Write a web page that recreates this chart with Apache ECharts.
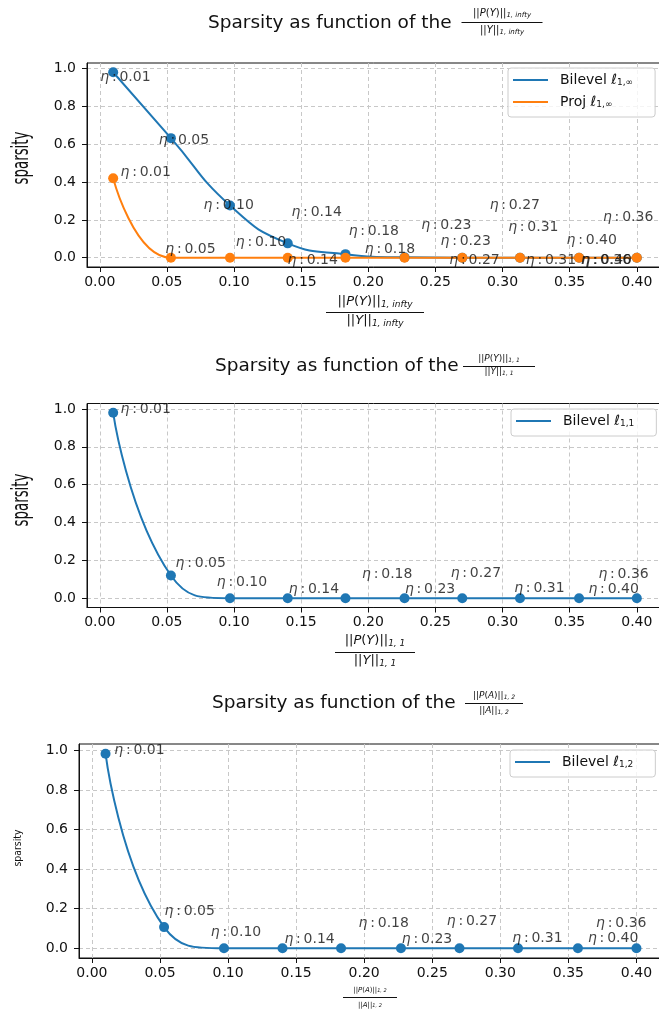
<!DOCTYPE html>
<html>
<head>
<meta charset="utf-8">
<script src="https://cdn.jsdelivr.net/npm/echarts@6/dist/echarts.min.js"></script>
<style>
  html, body { margin: 0; padding: 0; background: #fff; }
  #main { width: 659px; height: 1010px; }
</style>
</head>
<body>
<div id="main"></div>
<script>
// ---- data ----
var eta = [0.01, 0.053, 0.097, 0.14, 0.183, 0.227, 0.27, 0.313, 0.357, 0.40];
var etaText = ["0.01", "0.05", "0.10", "0.14", "0.18", "0.23", "0.27", "0.31", "0.36", "0.40"];
var xTicks = [0, 0.05, 0.1, 0.15, 0.2, 0.25, 0.3, 0.35, 0.4];
var yTicks = [0, 0.2, 0.4, 0.6, 0.8, 1.0];

var bilevelInf = [0.98, 0.632, 0.276, 0.076, 0.019, 0.002, 0, 0, 0, 0];
var projInf = [0.42, 0, 0, 0, 0, 0, 0, 0, 0, 0];
var bilevel11 = [0.98, 0.12, 0, 0, 0, 0, 0, 0, 0, 0];
var bilevel12 = [0.983, 0.107, 0, 0, 0, 0, 0, 0, 0, 0];

// where the eta annotations sit (data units: left edge, middle)
var bilevelInfLabX = [0.0, 0.0436, 0.0769, 0.1424, 0.185, 0.239, 0.290, 0.3038, 0.3744, 0.3473];
var bilevelInfLabY = [0.951, 0.618, 0.276, 0.240, 0.141, 0.173, 0.276, 0.161, 0.212, 0.090];
var projInfLabX = [0.0151, 0.0484, 0.101, 0.1395, 0.197, 0.2534, 0.26, 0.3169, 0.3579, 0.3585];
var projInfLabY = [0.451, 0.044, 0.081, -0.012, 0.046, 0.085, -0.012, -0.016, -0.016, -0.016];
var bilevel11LabX = [0.0151, 0.0561, 0.0868, 0.1404, 0.195, 0.2269, 0.261, 0.3083, 0.371, 0.3636];
var bilevel11LabY = [1.0, 0.186, 0.085, 0.046, 0.127, 0.046, 0.134, 0.053, 0.127, 0.046];
var bilevel12LabX = [0.016, 0.053, 0.087, 0.141, 0.1955, 0.2273, 0.2603, 0.3084, 0.370, 0.364];
var bilevel12LabY = [1.0, 0.186, 0.082, 0.045, 0.128, 0.045, 0.138, 0.052, 0.128, 0.049];

var C0 = "#1f77b4", C1 = "#ff7f0e";
var FONT = "DejaVu Sans";
var INK = "#111";

function pairs(xs, ys) {
  return xs.map(function (x, i) { return [x, ys[i]]; });
}

// right edge of every panel sits just past the page, as in the picture
var grids = [
  { left: 87, top: 63, width: 576, height: 204 },
  { left: 87, top: 403.5, width: 576, height: 204 },
  { left: 79, top: 744, width: 584, height: 214 }
];
var yMax = [1.029, 1.029, 1.032];

function xAxisFor(i) {
  return {
    type: "value", gridIndex: i, min: -0.0095, max: 0.4195,
    axisLine: { onZero: false, lineStyle: { color: INK, width: 1 } },
    axisTick: { show: true, customValues: xTicks, length: 5, lineStyle: { color: INK } },
    axisLabel: { customValues: xTicks, formatter: function (v) { return v.toFixed(2); },
      color: INK, fontSize: 14, fontFamily: FONT, margin: 8 },
    splitLine: { show: true, lineStyle: { color: "#c8c8c8", type: [4, 3], width: 1 } }
  };
}
function yAxisFor(i) {
  return {
    type: "value", gridIndex: i, min: -0.049, max: yMax[i],
    axisLine: { onZero: false, lineStyle: { color: INK, width: 1 } },
    axisTick: { show: true, customValues: yTicks, length: 5, lineStyle: { color: INK } },
    axisLabel: { customValues: yTicks, formatter: function (v) { return v.toFixed(1); },
      color: INK, fontSize: 14, fontFamily: FONT, margin: 11 },
    splitLine: { show: true, lineStyle: { color: "#c8c8c8", type: [4, 3], width: 1 } }
  };
}

function curve(name, i, ys, color) {
  return {
    type: "line", name: name, xAxisIndex: i, yAxisIndex: i,
    data: pairs(eta, ys), smooth: 0.5, showSymbol: false,
    lineStyle: { color: color, width: 2 }, itemStyle: { color: color }, z: 2
  };
}
function dots(name, i, ys, color) {
  return {
    type: "scatter", name: name, xAxisIndex: i, yAxisIndex: i,
    data: pairs(eta, ys), symbolSize: 10,
    itemStyle: { color: color, opacity: 1 }, z: 3
  };
}
function notes(name, i, xs, ys) {
  return {
    type: "scatter", name: name, xAxisIndex: i, yAxisIndex: i,
    data: pairs(xs, ys), symbolSize: 1, itemStyle: { color: "transparent" }, z: 5,
    label: {
      show: true, position: "right", distance: 0, color: INK, fontSize: 14, fontFamily: FONT,
      formatter: function (p) { return "{e|\u03b7}\u2009:\u2009" + etaText[p.dataIndex]; },
      rich: { e: { fontStyle: "italic", fontSize: 14, fontFamily: FONT, color: INK } }
    }
  };
}

function legendFor(names, left, top) {
  return {
    data: names, left: left, top: top, orient: "vertical",
    icon: "rect", itemWidth: 35, itemHeight: 2, itemGap: 8,
    padding: [5, 22, 8, 5],
    borderColor: "#cccccc", borderWidth: 1, borderRadius: 3,
    backgroundColor: "rgba(255,255,255,0.8)",
    selectedMode: false,
    formatter: function (n) { return n.replace(/\u2113(.*)$/, "{l|\u2113}{s|$1}"); },
    textStyle: {
      color: INK, fontSize: 14, fontFamily: FONT, padding: [0, 0, 0, 7],
      rich: {
        l: { fontStyle: "italic", fontSize: 14, fontFamily: FONT, color: INK },
        s: { fontSize: 9, fontFamily: FONT, color: INK, verticalAlign: "bottom", padding: [5, 0, 0, 0] }
      }
    }
  };
}

// a stacked fraction (math-like axis label / title part)
function frac(cx, yNum, yLine, yDen, w, num, den, fs, sfs) {
  var rich = {
    i: { fontStyle: "italic", fontSize: fs, fontFamily: FONT, fill: INK },
    s: { fontStyle: "italic", fontSize: sfs, fontFamily: FONT, fill: INK, padding: [Math.round(fs * 0.35), 0, 0, 0], verticalAlign: "bottom" }
  };
  return [
    { type: "text", x: cx, y: yNum, silent: true,
      style: { text: num, rich: rich, font: fs + "px '" + FONT + "'", fill: INK, align: "center", verticalAlign: "middle" } },
    { type: "rect", silent: true, shape: { x: cx - w / 2, y: yLine, width: w, height: 1 }, style: { fill: INK } },
    { type: "text", x: cx, y: yDen, silent: true,
      style: { text: den, rich: rich, font: fs + "px '" + FONT + "'", fill: INK, align: "center", verticalAlign: "middle" } }
  ];
}
function titleText(x, y) {
  return { type: "text", x: x, y: y, silent: true,
    style: { text: "Sparsity as function of the", font: "18.5px '" + FONT + "'", fill: INK, align: "left", verticalAlign: "middle" } };
}
function yName(x, y, fs, sx) {
  return { type: "text", x: x, y: y, rotation: Math.PI / 2, scaleX: sx, silent: true,
    style: { text: "sparsity", font: fs + "px '" + FONT + "'", fill: INK, align: "center", verticalAlign: "middle" } };
}

var graphics = [
  titleText(208, 23),
  titleText(215, 366),
  titleText(212, 703),
  yName(22, 158, 23, 0.58),
  yName(22, 500, 23, 0.58),
  yName(18, 848, 11, 0.85)
];
graphics = graphics
  .concat(frac(502, 13, 22, 30, 81, "||{i|P}({i|Y})||{s|1, infty}", "||{i|Y}||{s|1, infty}", 10, 7))
  .concat(frac(375, 302, 312, 321, 98, "||{i|P}({i|Y})||{s|1, infty}", "||{i|Y}||{s|1, infty}", 13, 9))
  .concat(frac(499, 359, 366, 372, 72, "||{i|P}({i|Y})||{s|1, 1}", "||{i|Y}||{s|1, 1}", 9, 6))
  .concat(frac(375, 641, 652, 661, 80, "||{i|P}({i|Y})||{s|1, 1}", "||{i|Y}||{s|1, 1}", 13, 9))
  .concat(frac(494, 696, 703, 711, 58, "||{i|P}({i|A})||{s|1, 2}", "||{i|A}||{s|1, 2}", 9, 6))
  .concat(frac(370, 990, 997, 1005, 54, "||{i|P}({i|A})||{s|1, 2}", "||{i|A}||{s|1, 2}", 7, 5));

var chart = echarts.init(document.getElementById("main"), null, { renderer: "canvas" });
chart.setOption({
  animation: false,
  backgroundColor: "#fff",
  grid: grids.map(function (g) {
    return { left: g.left, top: g.top, width: g.width, height: g.height, show: true,
      outerBoundsMode: "none", containLabel: false,
      borderColor: INK, borderWidth: 1, backgroundColor: "transparent" };
  }),
  xAxis: [xAxisFor(0), xAxisFor(1), xAxisFor(2)],
  yAxis: [yAxisFor(0), yAxisFor(1), yAxisFor(2)],
  legend: [
    legendFor(["Bilevel \u21131,\u221e", "Proj \u21131,\u221e"], 508, 68),
    legendFor(["Bilevel \u21131,1"], 511, 409),
    legendFor(["Bilevel \u21131,2"], 510, 750)
  ],
  graphic: graphics,
  series: [
    curve("Bilevel \u21131,\u221e", 0, bilevelInf, C0),
    dots("bilevel inf points", 0, bilevelInf, C0),
    curve("Proj \u21131,\u221e", 0, projInf, C1),
    dots("proj inf points", 0, projInf, C1),
    notes("bilevel inf notes", 0, bilevelInfLabX, bilevelInfLabY),
    notes("proj inf notes", 0, projInfLabX, projInfLabY),

    curve("Bilevel \u21131,1", 1, bilevel11, C0),
    dots("bilevel 11 points", 1, bilevel11, C0),
    notes("bilevel 11 notes", 1, bilevel11LabX, bilevel11LabY),

    curve("Bilevel \u21131,2", 2, bilevel12, C0),
    dots("bilevel 12 points", 2, bilevel12, C0),
    notes("bilevel 12 notes", 2, bilevel12LabX, bilevel12LabY)
  ]
});
</script>
</body>
</html>
